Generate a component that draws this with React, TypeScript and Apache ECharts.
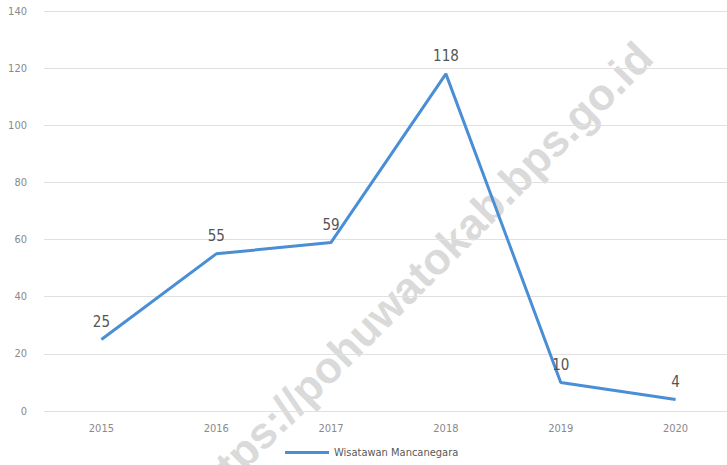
import React, { useEffect, useRef } from "react";
import * as echarts from "echarts";

const categories = ["2015", "2016", "2017", "2018", "2019", "2020"];
const wisatawan = [25, 55, 59, 118, 10, 4];
const seriesName = "Wisatawan Mancanegara";
const watermark = "https://pohuwatokab.bps.go.id";

const FONT = "'DejaVu Sans Condensed', 'Liberation Sans Narrow', 'Roboto', sans-serif";

export default function App() {
  const ref = useRef<HTMLDivElement>(null);
  useEffect(() => {
    if (!ref.current) return;
    const chart = echarts.init(ref.current, undefined, { renderer: "svg" });
    chart.setOption({
      animation: false,
      backgroundColor: "#ffffff",
      grid: { left: 44, right: 0, top: 11, bottom: 54, containLabel: false },
      legend: {
        data: [seriesName],
        bottom: 2,
        left: 280,
        itemWidth: 44,
        itemHeight: 3,
        itemGap: 6,
        icon: "rect",
        textStyle: { color: "#595959", fontSize: 11, fontFamily: FONT },
      },
      xAxis: {
        type: "category",
        data: categories,
        boundaryGap: true,
        axisLine: { show: false },
        axisTick: { show: false },
        axisLabel: { color: "#8a8a8a", fontSize: 11, fontFamily: FONT, margin: 12 },
      },
      yAxis: {
        type: "value",
        min: 0,
        max: 140,
        interval: 20,
        axisLine: { show: false },
        axisTick: { show: false },
        axisLabel: { color: "#8a8a8a", fontSize: 11, fontFamily: FONT, margin: 17 },
        splitLine: { lineStyle: { color: "#e0e0e0", width: 1 } },
      },
      graphic: [
        {
          type: "text",
          x: 419,
          y: 275,
          rotation: Math.PI / 4,
          z: -10,
          silent: true,
          style: {
            text: watermark,
            fill: "#dadada",
            font: "bold 44px 'Liberation Sans', Arial, sans-serif",
            textAlign: "center",
            textVerticalAlign: "middle",
          },
        },
      ],
      series: [
        {
          name: seriesName,
          type: "line",
          data: wisatawan,
          symbol: "circle",
          symbolSize: 0,
          showSymbol: true,
          z: 5,
          lineStyle: { color: "#4a8fd6", width: 3 },
          itemStyle: { color: "#4a8fd6" },
          label: {
            show: true,
            position: "top",
            distance: 10,
            color: "#555555",
            fontSize: 15,
            fontFamily: FONT,
          },
        },
      ],
    });
    return () => chart.dispose();
  }, []);
  return (
    <div style={{ width: 727, height: 465, position: "absolute", left: 0, top: 0, overflow: "hidden" }}>
      <div ref={ref} style={{ width: 733, height: 465 }} />
    </div>
  );
}
